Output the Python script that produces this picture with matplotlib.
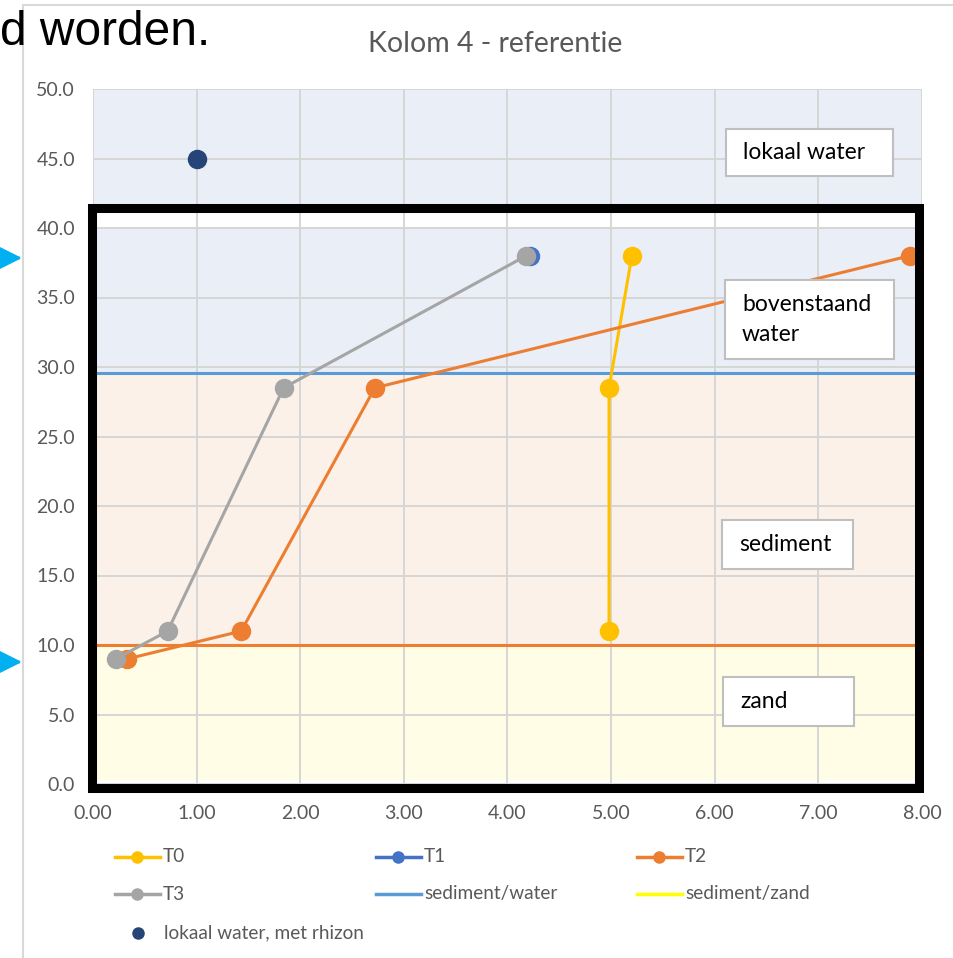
import matplotlib.pyplot as plt
import matplotlib.patches as mpatches
from matplotlib.lines import Line2D

# Data
t0_x = [5.20, 4.98, 4.98]
t0_y = [38.0, 28.5, 11.0]
t1_x = [4.22]
t1_y = [38.0]
t2_x = [7.88, 2.72, 1.43, 0.33]
t2_y = [38.0, 28.5, 11.0, 9.0]
t3_x = [4.18, 1.84, 0.72, 0.22]
t3_y = [38.0, 28.5, 11.0, 9.0]
rhizon_x = [1.0]
rhizon_y = [45.0]
sed_water = 29.6
sed_zand = 10.0
x_ticks = [0, 1, 2, 3, 4, 5, 6, 7, 8]
y_ticks = [0, 5, 10, 15, 20, 25, 30, 35, 40, 45, 50]

W, H = 954, 958
GREY_TXT = "#595959"
FONT = "Lato"


def fp(x, y):
    # pixel (top-left origin) -> figure fraction
    return x / W, 1 - y / H


fig = plt.figure(figsize=(W / 100, H / 100), dpi=100)
ax = fig.add_axes([93 / W, 1 - 784 / H, (922 - 93) / W, (784 - 89) / H])

# zones
ax.axhspan(sed_water, 50, color="#E9EEF7", lw=0, zorder=0)
ax.axhspan(sed_zand, sed_water, color="#FBF1E9", lw=0, zorder=0)
ax.axhspan(0.3, sed_zand, color="#FFFDE6", lw=0, zorder=0)
ax.axhspan(40.1, 41.2, color="white", lw=0, zorder=0.5)

ax.set_xlim(0, 8)
ax.set_ylim(0, 50)
ax.set_xticks(x_ticks)
ax.set_yticks(y_ticks)
ax.set_xticklabels(["%.2f" % v for v in x_ticks])
ax.set_yticklabels(["%.1f" % v for v in y_ticks])
ax.grid(True, color="#D6D6D6", lw=1.4, zorder=1)
ax.set_axisbelow(True)
for s in ax.spines.values():
    s.set_visible(False)
ax.tick_params(axis="y", length=0, pad=13, labelsize=14, labelcolor=GREY_TXT)
ax.tick_params(axis="x", length=0, pad=15, labelsize=14, labelcolor=GREY_TXT)
for lab in ax.get_xticklabels() + ax.get_yticklabels():
    lab.set_fontfamily(FONT)

# boundary lines
ax.axhline(sed_water, color="#5B9BD5", lw=2.2, zorder=2)
ax.axhline(sed_zand, color="#ED7D31", lw=2.2, zorder=2)

ms = 13
ax.plot(t0_x, t0_y, "-o", color="#FFC000", lw=2.2, ms=ms, zorder=3)
ax.plot(t1_x, t1_y, "-o", color="#4472C4", lw=2.2, ms=ms, zorder=3)
ax.plot(t2_x, t2_y, "-o", color="#ED7D31", lw=2.2, ms=ms, zorder=3)
ax.plot(t3_x, t3_y, "-o", color="#A5A5A5", lw=2.2, ms=ms, zorder=4)
ax.plot(rhizon_x, rhizon_y, "o", color="#264478", ms=ms, zorder=4)

# title
fig.text(*fp(495, 52), "Kolom 4 - referentie", ha="center", va="baseline",
         fontsize=20.5, color=GREY_TXT, family=FONT)

# label boxes
boxes = [
    ((726, 129, 893, 176), ["lokaal water"]),
    ((725, 280, 894, 359), ["bovenstaand", "water"]),
    ((722, 520, 853, 569), ["sediment"]),
    ((723, 677, 854, 726), ["zand"]),
]
for (x0, y0, x1, y1), lines in boxes:
    fig.add_artist(mpatches.Rectangle(fp(x0, y1), (x1 - x0) / W, (y1 - y0) / H,
                                      transform=fig.transFigure, fc="white",
                                      ec="#BFBFBF", lw=1.5, zorder=5))
    cy = (y0 + y1) / 2
    step = 30
    for i, t in enumerate(lines):
        yy = cy + (i - (len(lines) - 1) / 2) * step
        fig.text(*fp(x0 + 17, yy), t, ha="left", va="center", fontsize=16.5,
                 color="black", family=FONT, zorder=6)

# black overlay frame
fig.add_artist(mpatches.Rectangle(fp(91.5, 788), (919.5 - 91.5) / W, (788 - 208) / H,
                                  transform=fig.transFigure, fill=False,
                                  ec="black", lw=6.5, zorder=7))

# legend (Excel style, row-wise)
leg = [
    (115, 857, "#FFC000", True, "T0"),
    (376, 857, "#4472C4", True, "T1"),
    (637, 857, "#ED7D31", True, "T2"),
    (115, 894, "#A5A5A5", True, "T3"),
    (376, 894, "#5B9BD5", False, "sediment/water"),
    (637, 894, "#FFFF00", False, "sediment/zand"),
]
for x0, y0, c, mk, t in leg:
    fig.add_artist(Line2D([x0 / W, (x0 + 45) / W], [1 - y0 / H] * 2, color=c, lw=2.5,
                          transform=fig.transFigure))
    if mk:
        fig.add_artist(Line2D([(x0 + 22.5) / W], [1 - y0 / H], color=c, marker="o",
                              ms=8, lw=0, transform=fig.transFigure))
    fig.text(*fp(x0 + 48, y0), t, ha="left", va="center", fontsize=13.7,
             color=GREY_TXT, family=FONT)
fig.add_artist(Line2D([138 / W], [1 - 933 / H], color="#264478", marker="o", ms=8,
                      lw=0, transform=fig.transFigure))
fig.text(*fp(164, 933), "lokaal water, met rhizon", ha="left", va="center",
         fontsize=13.7, color=GREY_TXT, family=FONT)

# page decorations around the chart
fig.add_artist(Line2D([22.5 / W, 22.5 / W], [1 - 5 / H, 0], color="#D9D9D9", lw=1.5,
                      transform=fig.transFigure))
fig.add_artist(Line2D([22.5 / W, 1], [1 - 5 / H] * 2, color="#D9D9D9", lw=1.5,
                      transform=fig.transFigure))
fig.text(*fp(0, 45), "d worden.", ha="left", va="baseline", fontsize=34.5,
         color="black", family="Liberation Sans")
for ya in [258, 662]:
    fig.add_artist(mpatches.FancyArrowPatch(fp(-2, ya), fp(22, ya),
                                            transform=fig.transFigure,
                                            arrowstyle="-|>,head_length=1.0,head_width=0.5",
                                            mutation_scale=14, color="#00B0F0", lw=2,
                                            shrinkA=0, shrinkB=0))

fig.savefig("out.png", dpi=100)
